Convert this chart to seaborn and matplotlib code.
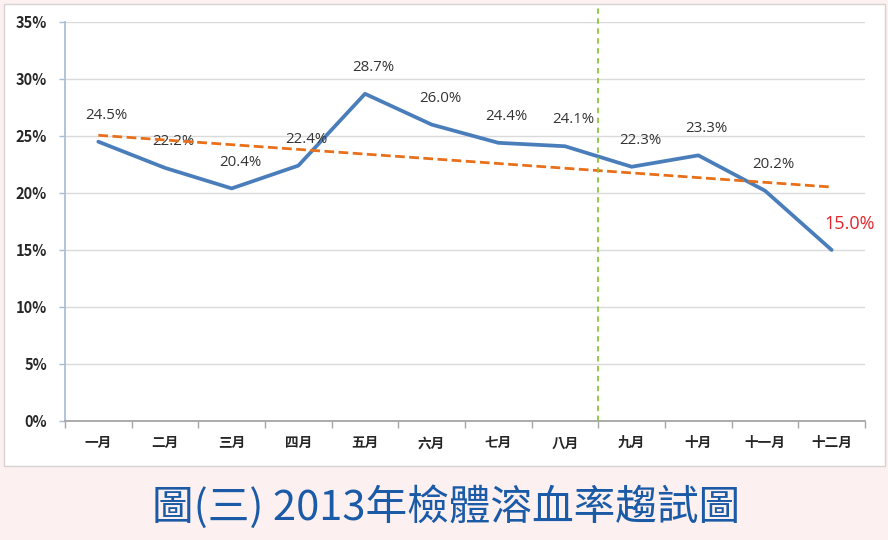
import matplotlib; matplotlib.use('Agg')
import numpy as np
import pandas as pd
import seaborn as sns
import matplotlib.pyplot as plt
from matplotlib.patches import Rectangle

# chart data
months = ['一月', '二月', '三月', '四月', '五月', '六月',
          '七月', '八月', '九月', '十月', '十一月', '十二月']
rates = [24.5, 22.2, 20.4, 22.4, 28.7, 26.0, 24.4, 24.1, 22.3, 23.3, 20.2, 15.0]
y_ticks = [0, 5, 10, 15, 20, 25, 30, 35]
divider_after = '八月'
title = '圖(三) 2013年檢體溶血率趨試圖'

sns.set_theme(style='white')
plt.rcParams['font.family'] = ['Noto Sans CJK TC', 'DejaVu Sans']

df = pd.DataFrame({'pos': np.arange(len(months)), 'month': months, 'rate': rates})

fig = plt.figure(figsize=(8.88, 5.4), dpi=100, facecolor='#fcf0f0')
fig.patches.append(Rectangle((0.0045, 0.137), 0.992, 0.856, transform=fig.transFigure,
                             facecolor='white', edgecolor='#d9d2d2', lw=1, zorder=-1))
ax = fig.add_axes([0.0732, 0.2204, 0.9009, 0.7389])
ax.set_facecolor('white')

# monthly line + linear trend
sns.lineplot(data=df, x='pos', y='rate', color='#4a7ebb', lw=2.7, ax=ax, zorder=3)
sns.regplot(data=df, x='pos', y='rate', scatter=False, ci=None, ax=ax,
            line_kws=dict(color='#e8701a', lw=2, ls=(0, (3.5, 1.6)), zorder=4))

# vertical divider between Aug and Sep
div_x = months.index(divider_after) + 0.5
ax.axvline(div_x, ymin=0, ymax=1.035, color='#8cc63e', lw=1.3,
           ls=(0, (3, 2.5)), clip_on=False, zorder=5)

# data labels
for x, v in zip(df['pos'], df['rate']):
    if x == len(months) - 1:
        ax.annotate(f'{v:.1f}%', (x, v), xytext=(13, 19), textcoords='offset points',
                    ha='center', va='center', fontsize=13, color='#e3262b',
                    family=['Open Sans', 'DejaVu Sans'])
    else:
        ax.annotate(f'{v:.1f}%', (x, v), xytext=(6, 19), textcoords='offset points',
                    ha='center', va='center', fontsize=10.8, color='#333333',
                    family=['Open Sans', 'DejaVu Sans'])

ax.set_xlim(-0.5, len(months) - 0.5)
ax.set_ylim(0, 35)
ax.set_yticks(y_ticks, labels=[f'{t}%' for t in y_ticks], fontweight='bold')
ax.set_xticks(df['pos'], labels=months, fontweight='bold')
ax.set_xticks(np.arange(-0.5, len(months)), minor=True)
ax.set_xlabel('')
ax.set_ylabel('')

ax.grid(axis='y', color='#dadada', lw=1)
ax.set_axisbelow(True)
for s in ['top', 'right']:
    ax.spines[s].set_visible(False)
ax.spines['left'].set_color('#a9bcd6')
ax.spines['bottom'].set_color('#a6a6a6')
ax.spines['bottom'].set_linewidth(1.3)

ax.tick_params(axis='y', direction='out', length=4, width=1, color='#a9bcd6',
               labelsize=10.5, labelcolor='#262626', pad=9, left=True)
ax.tick_params(axis='x', which='major', length=0, labelsize=9.8,
               labelcolor='#262626', pad=11, bottom=True)
ax.tick_params(axis='x', which='minor', direction='out', length=5, width=1,
               color='#a6a6a6', bottom=True)

fig.text(0.502, 0.061, title, ha='center', va='center', color='#1b5aa6', fontsize=30)

plt.savefig('out.png', dpi=100, facecolor=fig.get_facecolor())
plt.close()
